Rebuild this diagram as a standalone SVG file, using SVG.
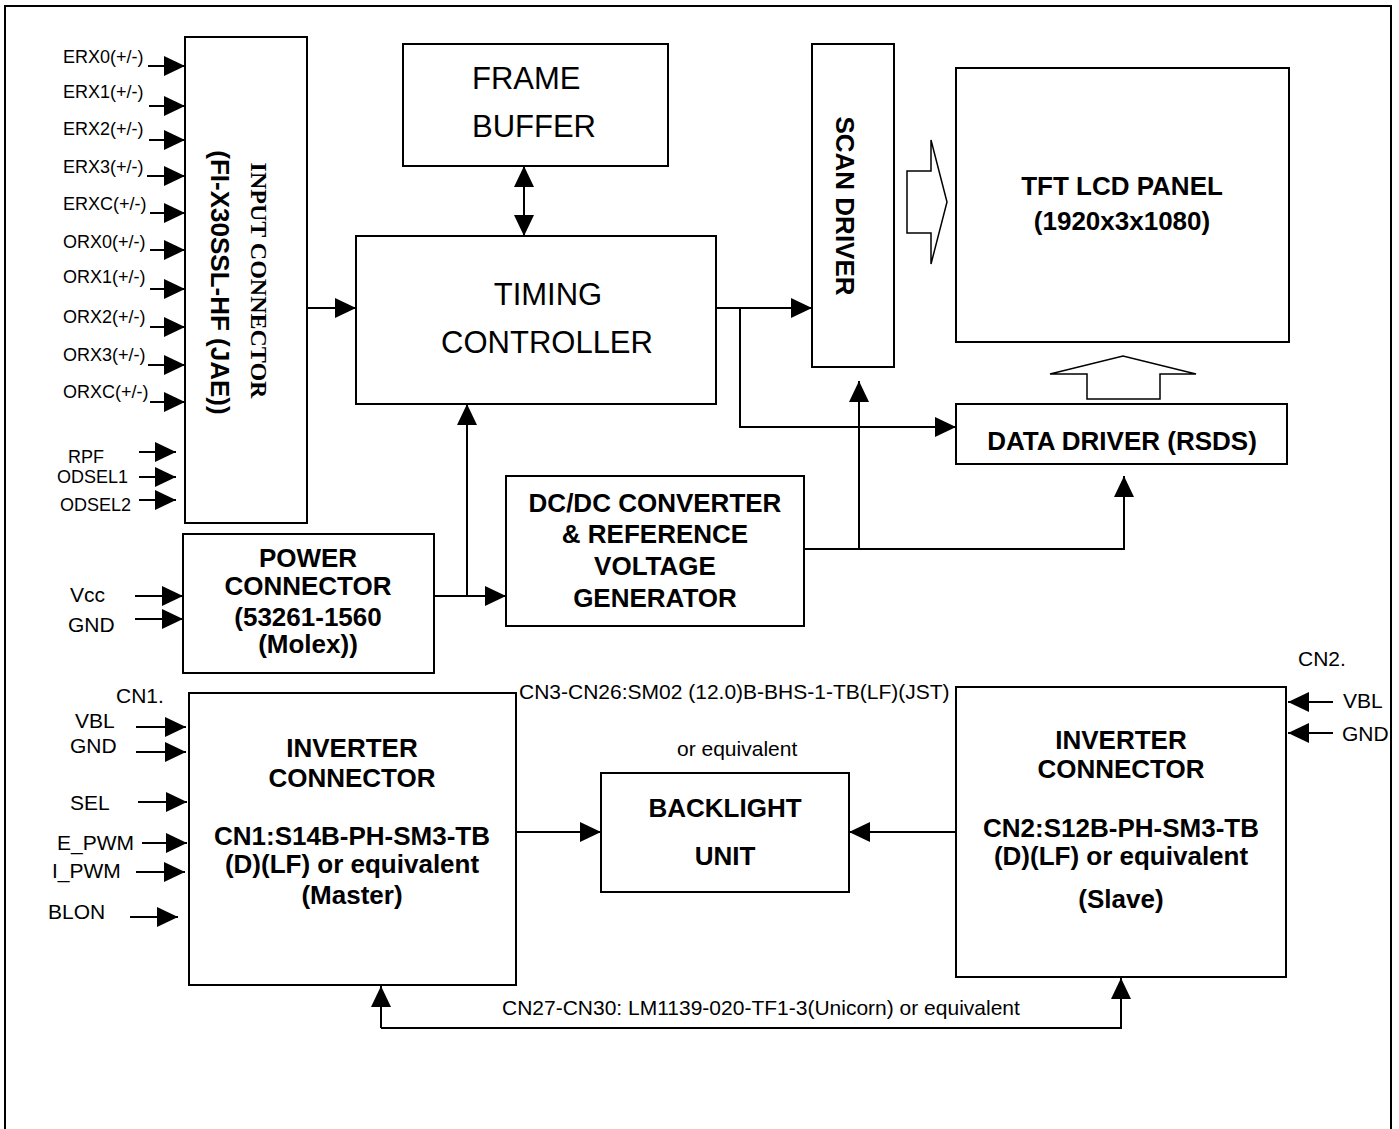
<svg xmlns="http://www.w3.org/2000/svg" width="1399" height="1129" viewBox="0 0 1399 1129">
<defs>
<marker id="ah" viewBox="0 0 21 20" refX="21" refY="10" markerWidth="21" markerHeight="20" markerUnits="userSpaceOnUse" orient="auto-start-reverse"><path d="M0,0 L21,10 L0,20 z" fill="#000"/></marker>
</defs>
<style>
.box{fill:#fff;stroke:#000;stroke-width:2}
.c{fill:none;stroke:#000;stroke-width:2}
.a{marker-end:url(#ah)}
.hol{fill:#fff;stroke:#000;stroke-width:1.5}
text{font-family:"Liberation Sans",Arial,sans-serif;fill:#000}
.b{font-weight:bold;font-size:26px;text-anchor:middle}
.s{font-size:18px}
.m{font-size:21px}
.l{font-size:31px}
.serif{font-family:"Liberation Serif","Times New Roman",serif;font-weight:bold;font-size:24px}
</style>
<rect width="1399" height="1129" fill="#fff"/>
<path class="c" d="M5,1129 V6 H1391 V1129"/>

<g id="input-connector">
<rect class="box" x="185" y="37" width="122" height="486"/>
<text class="serif" transform="translate(251,280.5) rotate(90)" text-anchor="middle">INPUT CONNECTOR</text>
<text class="b" transform="translate(211,282.5) rotate(90)">(FI-X30SSL-HF (JAE))</text>
</g>

<g id="frame-buffer">
<rect class="box" x="403" y="44" width="265" height="122"/>
<text class="l" x="472" y="89">FRAME</text>
<text class="l" x="472" y="137">BUFFER</text>
</g>

<g id="timing-controller">
<rect class="box" x="356" y="236" width="360" height="168"/>
<text class="l" x="548" y="305" text-anchor="middle">TIMING</text>
<text class="l" x="547" y="353" text-anchor="middle">CONTROLLER</text>
</g>

<g id="scan-driver">
<rect class="box" x="812" y="44" width="82" height="323"/>
<text class="b" transform="translate(836,206) rotate(90)">SCAN DRIVER</text>
</g>

<g id="tft-panel">
<rect class="box" x="956" y="68" width="333" height="274"/>
<text class="b" x="1122" y="195">TFT LCD PANEL</text>
<text class="b" x="1122" y="230">(1920x3x1080)</text>
</g>

<g id="data-driver">
<rect class="box" x="956" y="404" width="331" height="60"/>
<text class="b" x="1122" y="450">DATA DRIVER (RSDS)</text>
</g>

<g id="power-connector">
<rect class="box" x="183" y="534" width="251" height="139"/>
<text class="b" x="308" y="567">POWER</text>
<text class="b" x="308" y="595">CONNECTOR</text>
<text class="b" x="308" y="626">(53261-1560</text>
<text class="b" x="308" y="653">(Molex))</text>
</g>

<g id="dcdc-converter">
<rect class="box" x="506" y="476" width="298" height="150"/>
<text class="b" x="655" y="512">DC/DC CONVERTER</text>
<text class="b" x="655" y="543">&amp; REFERENCE</text>
<text class="b" x="655" y="575">VOLTAGE</text>
<text class="b" x="655" y="607">GENERATOR</text>
</g>

<g id="inverter-cn1">
<rect class="box" x="189" y="693" width="327" height="292"/>
<text class="b" x="352" y="757">INVERTER</text>
<text class="b" x="352" y="787">CONNECTOR</text>
<text class="b" x="352" y="845">CN1:S14B-PH-SM3-TB</text>
<text class="b" x="352" y="873">(D)(LF) or equivalent</text>
<text class="b" x="352" y="904">(Master)</text>
</g>

<g id="backlight-unit">
<rect class="box" x="601" y="773" width="248" height="119"/>
<text class="b" x="725" y="817">BACKLIGHT</text>
<text class="b" x="725" y="865">UNIT</text>
</g>

<g id="inverter-cn2">
<rect class="box" x="956" y="687" width="330" height="290"/>
<text class="b" x="1121" y="749">INVERTER</text>
<text class="b" x="1121" y="778">CONNECTOR</text>
<text class="b" x="1121" y="837">CN2:S12B-PH-SM3-TB</text>
<text class="b" x="1121" y="865">(D)(LF) or equivalent</text>
<text class="b" x="1121" y="908">(Slave)</text>
</g>

<g id="signal-labels">
<text class="s" x="63" y="63">ERX0(+/-)</text>
<text class="s" x="63" y="98">ERX1(+/-)</text>
<text class="s" x="63" y="135">ERX2(+/-)</text>
<text class="s" x="63" y="173">ERX3(+/-)</text>
<text class="s" x="63" y="210">ERXC(+/-)</text>
<text class="s" x="63" y="248">ORX0(+/-)</text>
<text class="s" x="63" y="283">ORX1(+/-)</text>
<text class="s" x="63" y="323">ORX2(+/-)</text>
<text class="s" x="63" y="361">ORX3(+/-)</text>
<text class="s" x="63" y="398">ORXC(+/-)</text>
<text class="s" x="68" y="463">RPF</text>
<text class="s" x="57" y="483">ODSEL1</text>
<text class="s" x="60" y="511">ODSEL2</text>
<text class="m" x="70" y="602">Vcc</text>
<text class="m" x="68" y="632">GND</text>
<text class="m" x="116" y="703">CN1.</text>
<text class="m" x="75" y="728">VBL</text>
<text class="m" x="70" y="753">GND</text>
<text class="m" x="70" y="810">SEL</text>
<text class="m" x="57" y="850">E_PWM</text>
<text class="m" x="52" y="878">I_PWM</text>
<text class="m" x="48" y="919">BLON</text>
<text class="m" x="1298" y="666">CN2.</text>
<text class="m" x="1343" y="708">VBL</text>
<text class="m" x="1342" y="741">GND</text>
<text class="m" x="519" y="699">CN3-CN26:SM02 (12.0)B-BHS-1-TB(LF)(JST)</text>
<text class="m" x="677" y="756">or equivalent</text>
<text class="m" x="502" y="1015">CN27-CN30: LM1139-020-TF1-3(Unicorn) or equivalent</text>
</g>

<g id="connectors">
<path class="c a" d="M148,66 H185"/>
<path class="c a" d="M149,106 H185"/>
<path class="c a" d="M149,140 H185"/>
<path class="c a" d="M147,176 H185"/>
<path class="c a" d="M150,213 H185"/>
<path class="c a" d="M150,250 H185"/>
<path class="c a" d="M150,289 H185"/>
<path class="c a" d="M150,327 H185"/>
<path class="c a" d="M148,365 H185"/>
<path class="c a" d="M150,402 H185"/>
<path class="c a" d="M139,452 H176"/>
<path class="c a" d="M139,477 H176"/>
<path class="c a" d="M139,500 H176"/>
<path class="c a" d="M307,308 H356"/>
<path class="c a" d="M524,166 V236" marker-start="url(#ah)"/>
<path class="c a" d="M716,308 H812"/>
<path class="c a" d="M740,308 V427 H956"/>
<path class="c a" d="M434,596 H506"/>
<path class="c a" d="M467,596 V404"/>
<path class="c a" d="M804,549 H1124 V476"/>
<path class="c a" d="M859,549 V381"/>
<path class="c a" d="M135,596 H183"/>
<path class="c a" d="M135,619 H183"/>
<path class="c a" d="M136,727 H186"/>
<path class="c a" d="M136,752 H186"/>
<path class="c a" d="M138,802 H187"/>
<path class="c a" d="M142,843 H187"/>
<path class="c a" d="M136,872 H185"/>
<path class="c a" d="M130,917 H178"/>
<path class="c a" d="M1333,702 H1288"/>
<path class="c a" d="M1333,733 H1288"/>
<path class="c a" d="M516,832 H601"/>
<path class="c a" d="M956,832 H849"/>
<path class="c a" d="M381,1028 V986"/>
<path class="c a" d="M381,1028 H1121 V978"/>
<polygon class="hol" points="907,171 931,171 931,140 947,202 931,264 931,233 907,233"/>
<polygon class="hol" points="1087,399 1087,374 1050,374 1123,356 1196,374 1160,374 1160,399"/>
</g>
</svg>
